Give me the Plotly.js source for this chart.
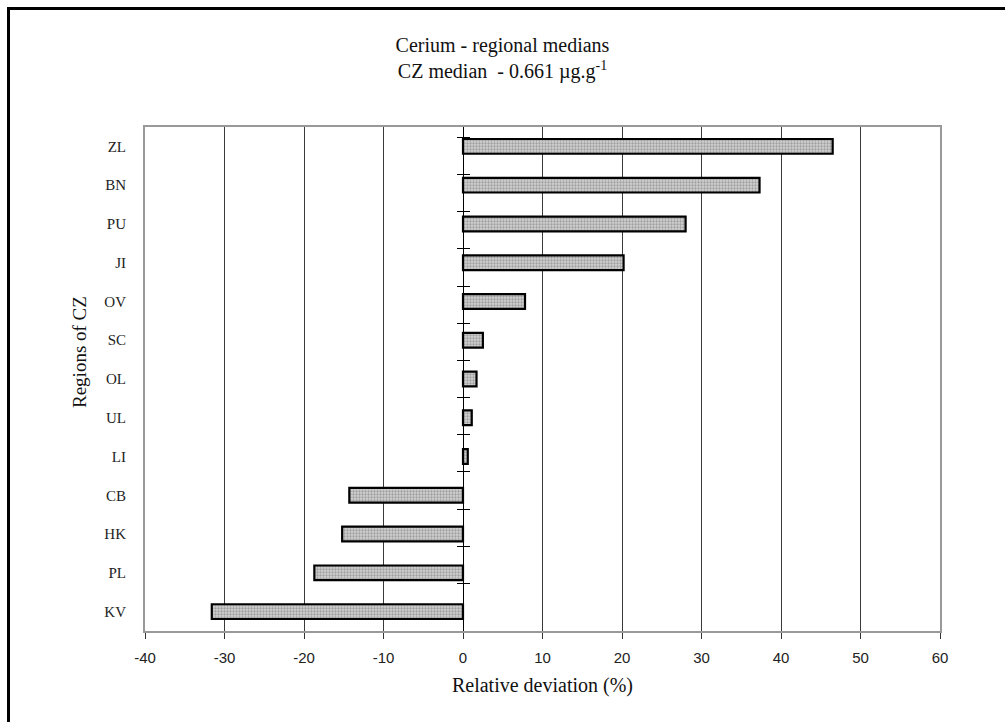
<!DOCTYPE html>
<html>
<head>
<meta charset="utf-8">
<script src="https://cdn.plot.ly/plotly-3.0.1.min.js"></script>
<style>
  html, body { margin: 0; padding: 0; background: #ffffff; }
  #frame { position: absolute; left: 7px; top: 7px; width: 1100px; height: 800px;
           border-left: 3px solid #000; border-top: 3px solid #000; box-sizing: border-box; }
  #chart { position: absolute; left: 0; top: 0; width: 1005px; height: 722px; }
</style>
</head>
<body>
<div id="frame"></div>
<div id="chart"></div>
<script>
// Regions listed top to bottom as in the reference
const regions = ["ZL", "BN", "PU", "JI", "OV", "SC", "OL", "UL", "LI", "CB", "HK", "PL", "KV"];
// Relative deviation from CZ median (%)
const deviations = [46.5, 37.3, 28.0, 20.2, 7.8, 2.5, 1.7, 1.1, 0.6, -14.3, -15.2, -18.7, -31.6];
const xTickValues = [-40, -30, -20, -10, 0, 10, 20, 30, 40, 50, 60];

const serif = "Liberation Serif, Times New Roman, serif";
const sans = "Liberation Sans Narrow, Arial Narrow, Liberation Sans, Arial, sans-serif";

const bars = {
  type: "bar",
  orientation: "h",
  x: deviations,
  y: regions,
  xaxis: "x",
  yaxis: "y",
  marker: {
    color: "#cfcfcf",
    line: { color: "#000000", width: 2.2 },
    pattern: { shape: ".", fgcolor: "#6a6a6a", bgcolor: "#d2d2d2", size: 3, solidity: 0.45, fillmode: "overlay" }
  },
  hoverinfo: "x+y"
};
// invisible helpers so the zero-positioned tick axes carry the same categories
const helperOut = { type: "scatter", mode: "markers", x: deviations, y: regions, xaxis: "x", yaxis: "y2",
  marker: { opacity: 0 }, hoverinfo: "skip", showlegend: false };
const helperIn = { type: "scatter", mode: "markers", x: deviations, y: regions, xaxis: "x", yaxis: "y3",
  marker: { opacity: 0 }, hoverinfo: "skip", showlegend: false };

const zeroPos = (0 - (-40)) / (60 - (-40));

const layout = {
  width: 1005,
  height: 722,
  paper_bgcolor: "rgba(0,0,0,0)",
  plot_bgcolor: "#ffffff",
  showlegend: false,
  margin: { l: 145, r: 65, t: 127, b: 91 },
  bargap: 0.62,
  title: {
    text: "Cerium - regional medians<br>CZ median  - 0.661 µg.g<sup>-1</sup>",
    font: { family: serif, size: 20, color: "#111" },
    x: 0.5, xanchor: "center",
    y: 1 - 52 / 722, yanchor: "top", yref: "container"
  },
  xaxis: {
    range: [-40, 60],
    tickvals: xTickValues,
    ticktext: xTickValues.map(String),
    showgrid: true, gridcolor: "#3a3a3a", gridwidth: 1,
    zeroline: true, zerolinecolor: "#000000", zerolinewidth: 1,
    showline: true, mirror: true, linecolor: "#999999", linewidth: 2,
    ticks: "outside", ticklen: 6, tickcolor: "#333333", tickwidth: 1,
    ticklabelstandoff: 6,
    tickfont: { family: sans, size: 15, color: "#222" },
    title: { text: "Relative deviation (%)", font: { family: serif, size: 20, color: "#111" }, standoff: 13 }
  },
  yaxis: {
    type: "category",
    autorange: "reversed",
    showgrid: false, zeroline: false,
    showline: true, mirror: true, linecolor: "#999999", linewidth: 2,
    ticks: "",
    ticklabelstandoff: 14,
    tickfont: { family: serif, size: 15, color: "#222" }
  },
  yaxis2: {
    type: "category", overlaying: "y", anchor: "free", position: zeroPos,
    autorange: "reversed", showgrid: false, zeroline: false, showline: false,
    ticks: "outside", tickson: "boundaries", ticklen: 6, tickcolor: "#000", tickwidth: 1,
    showticklabels: false
  },
  yaxis3: {
    type: "category", overlaying: "y", anchor: "free", position: zeroPos,
    autorange: "reversed", showgrid: false, zeroline: false, showline: false,
    ticks: "inside", tickson: "boundaries", ticklen: 6, tickcolor: "#000", tickwidth: 1,
    showticklabels: false
  },
  annotations: [{
    text: "Regions of CZ",
    textangle: -90,
    font: { family: serif, size: 19, color: "#111" },
    xref: "paper", yref: "paper",
    x: (79 - 145) / 795, y: (631 - 352) / 504,
    xanchor: "center", yanchor: "middle",
    showarrow: false
  }]
};

Plotly.newPlot("chart", [bars, helperOut, helperIn], layout, { displayModeBar: false, staticPlot: true });
</script>
</body>
</html>
